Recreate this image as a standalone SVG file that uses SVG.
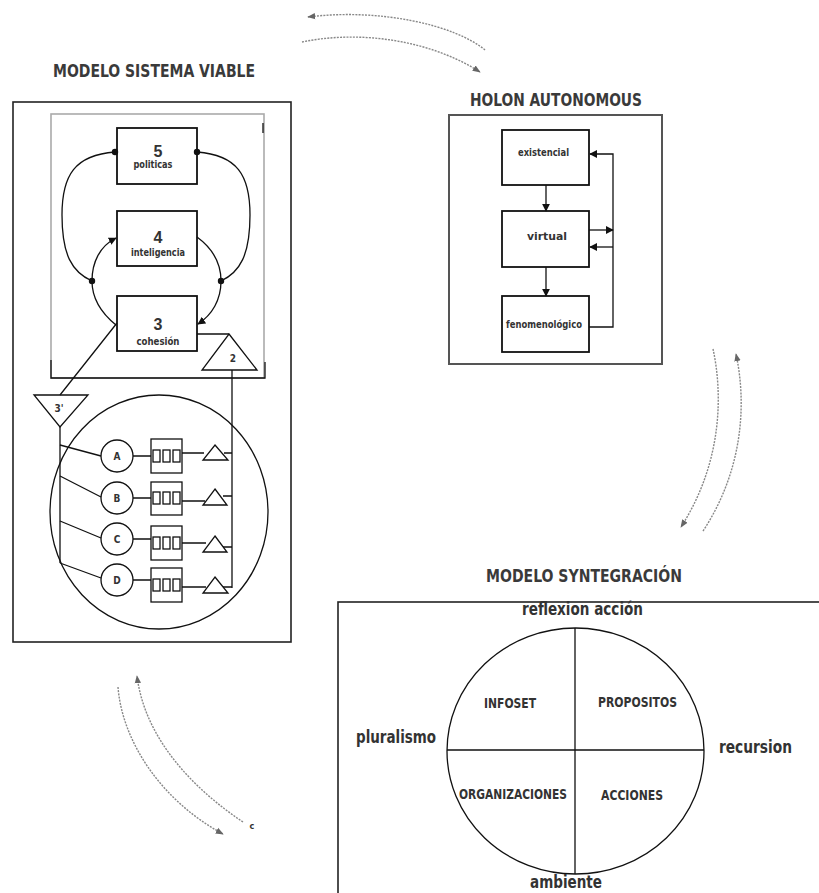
<svg xmlns="http://www.w3.org/2000/svg" width="819" height="893" viewBox="0 0 819 893">
  <style>
    .t { font-family: 'Liberation Sans Narrow', 'DejaVu Sans Condensed', 'Liberation Sans', sans-serif; font-weight: bold; fill: #333; }
    .title { font-size: 18px; fill: #3a3a3a; }
    .lab { font-size: 17px; }
    .quad { font-size: 14px; }
    .small { font-size: 10px; }
    .num { font-size: 16px; font-family: 'Liberation Sans', sans-serif; }
    .ln { fill: none; stroke: #111; stroke-width: 1.3; }
    .box { fill: #fff; stroke: #111; stroke-width: 1.8; }
    .frame { fill: none; stroke: #222; stroke-width: 1.6; }
    .dash { fill: none; stroke: #888; stroke-width: 1.4; stroke-dasharray: 2 1.2; }
    .dot { fill: #111; }
  </style>
  <defs>
    <marker id="ah" viewBox="0 0 10 10" refX="9" refY="5" markerWidth="8" markerHeight="8" markerUnits="userSpaceOnUse" orient="auto">
      <path d="M0,0 L10,5 L0,10 z" fill="#111"/>
    </marker>
    <marker id="ahg" viewBox="0 0 10 10" refX="9" refY="5" markerWidth="8" markerHeight="8" markerUnits="userSpaceOnUse" orient="auto">
      <path d="M0,1 L10,5 L0,9 z" fill="#666"/>
    </marker>
  </defs>
  <rect width="819" height="893" fill="#fff"/>

  <!-- section titles -->
  <text class="t title" x="53" y="77" textLength="202" lengthAdjust="spacingAndGlyphs">MODELO SISTEMA VIABLE</text>
  <text class="t title" x="470" y="106" textLength="172" lengthAdjust="spacingAndGlyphs">HOLON AUTONOMOUS</text>
  <text class="t title" x="486" y="582" textLength="196" lengthAdjust="spacingAndGlyphs">MODELO SYNTEGRACIÓN</text>

  <!-- viable system model -->
  <g id="vsm">
    <rect class="frame" x="13" y="102" width="278" height="540"/>
    <rect x="51" y="114" width="213" height="264" fill="none" stroke="#aaa" stroke-width="1.6"/>
    <path class="ln" d="M51,360 L51,378 L265,378 L265,362 M263,123 L263,133"/>

    <g id="s5">
      <rect class="box" x="117" y="128" width="80" height="56"/>
      <text class="t num" x="158" y="157" text-anchor="middle">5</text>
      <text class="t small" x="153" y="168" text-anchor="middle" textLength="39" lengthAdjust="spacingAndGlyphs">politicas</text>
    </g>
    <g id="s4">
      <rect class="box" x="117" y="211" width="80" height="55"/>
      <text class="t num" x="158" y="243" text-anchor="middle">4</text>
      <text class="t small" x="158" y="256" text-anchor="middle" textLength="54" lengthAdjust="spacingAndGlyphs">inteligencia</text>
    </g>
    <g id="s3">
      <rect class="box" x="117" y="296" width="80" height="55"/>
      <text class="t num" x="158" y="330" text-anchor="middle">3</text>
      <text class="t small" x="158" y="345" text-anchor="middle" textLength="43" lengthAdjust="spacingAndGlyphs">cohesión</text>
    </g>
    <g id="s2">
      <path class="ln" d="M229,334 L257,370 L202,370 z" fill="#fff"/>
      <text class="t small" x="233" y="362" text-anchor="middle" font-size="11">2</text>
    </g>
    <g id="s3p">
      <path class="ln" d="M34,395 L88,395 L60,427 z" fill="#fff"/>
      <text class="t small" x="59" y="412" text-anchor="middle" fill="#555">3'</text>
    </g>

    <!-- operational units -->
    <ellipse cx="159" cy="512" rx="109" ry="117" class="ln"/>
    <g id="uA">
      <circle cx="117" cy="456" r="16" class="ln" fill="#fff"/>
      <text class="t small" x="117" y="460" text-anchor="middle" font-size="9">A</text>
      <rect x="151" y="439" width="31" height="34" class="ln"/>
      <g class="ln" stroke-width="1.8"><rect x="153" y="450" width="7" height="12"/><rect x="163" y="450" width="7" height="12"/><rect x="173" y="450" width="7" height="12"/></g>
      <path class="ln" d="M215,445 L228,460 L203,460 z"/>
    </g>
    <g id="uB">
      <circle cx="117" cy="498" r="16" class="ln" fill="#fff"/>
      <text class="t small" x="117" y="502" text-anchor="middle" font-size="9">B</text>
      <rect x="151" y="482" width="31" height="33" class="ln"/>
      <g class="ln" stroke-width="1.8"><rect x="153" y="492" width="7" height="12"/><rect x="163" y="492" width="7" height="12"/><rect x="173" y="492" width="7" height="12"/></g>
      <path class="ln" d="M215,489 L227,505 L203,505 z"/>
    </g>
    <g id="uC">
      <circle cx="117" cy="539" r="16" class="ln" fill="#fff"/>
      <text class="t small" x="117" y="543" text-anchor="middle" font-size="9">C</text>
      <rect x="151" y="526" width="31" height="34" class="ln"/>
      <g class="ln" stroke-width="1.8"><rect x="153" y="537" width="7" height="12"/><rect x="163" y="537" width="7" height="12"/><rect x="173" y="537" width="7" height="12"/></g>
      <path class="ln" d="M215,536 L227,552 L203,552 z"/>
    </g>
    <g id="uD">
      <circle cx="117" cy="580" r="16" class="ln" fill="#fff"/>
      <text class="t small" x="117" y="584" text-anchor="middle" font-size="9">D</text>
      <rect x="151" y="568" width="31" height="34" class="ln"/>
      <g class="ln" stroke-width="1.8"><rect x="153" y="579" width="7" height="12"/><rect x="163" y="579" width="7" height="12"/><rect x="173" y="579" width="7" height="12"/></g>
      <path class="ln" d="M215,577 L228,593 L203,593 z"/>
    </g>
  </g>

  <!-- holon -->
  <g id="holon">
    <rect x="449" y="115" width="213" height="249" fill="none" stroke="#555" stroke-width="2"/>
    <g id="h-exist">
      <rect class="box" x="502" y="130" width="87" height="55" stroke-width="2.2"/>
      <text class="t small" x="543.5" y="156" text-anchor="middle" textLength="51" lengthAdjust="spacingAndGlyphs">existencial</text>
    </g>
    <g id="h-virtual">
      <rect class="box" x="502" y="211" width="87" height="56" stroke-width="2.2"/>
      <text class="t small" x="547" y="240" text-anchor="middle" textLength="40" lengthAdjust="spacingAndGlyphs">virtual</text>
    </g>
    <g id="h-fenom">
      <rect class="box" x="502" y="296" width="87" height="56" stroke-width="2.2"/>
      <text class="t small" x="544" y="328" text-anchor="middle" textLength="76" lengthAdjust="spacingAndGlyphs">fenomenológico</text>
    </g>
  </g>

  <!-- syntegration -->
  <g id="syntegration">
    <rect x="338" y="602" width="500" height="300" fill="none" stroke="#222" stroke-width="1.6"/>
    <ellipse cx="575.5" cy="751" rx="128.5" ry="123" class="ln" stroke-width="1.5"/>
    <path class="ln" stroke-width="1.5" d="M447,750 L704,750 M575,628 L575,874"/>
    <text class="t lab" x="522" y="615" textLength="121" lengthAdjust="spacingAndGlyphs">reflexion acción</text>
    <text class="t lab" x="356" y="743" textLength="80" lengthAdjust="spacingAndGlyphs">pluralismo</text>
    <text class="t lab" x="719" y="753" textLength="73" lengthAdjust="spacingAndGlyphs">recursion</text>
    <text class="t lab" x="530" y="888" textLength="72" lengthAdjust="spacingAndGlyphs">ambiente</text>
    <g id="q-infoset"><text class="t quad" x="484" y="708" textLength="52" lengthAdjust="spacingAndGlyphs">INFOSET</text></g>
    <g id="q-propositos"><text class="t quad" x="598" y="707" textLength="79" lengthAdjust="spacingAndGlyphs">PROPOSITOS</text></g>
    <g id="q-organizaciones"><text class="t quad" x="459" y="799" textLength="108" lengthAdjust="spacingAndGlyphs">ORGANIZACIONES</text></g>
    <g id="q-acciones"><text class="t quad" x="601" y="800" textLength="62" lengthAdjust="spacingAndGlyphs">ACCIONES</text></g>
  </g>

  <!-- connectors -->
  <g id="connectors">
    <!-- VSM loops -->
    <path class="ln" d="M115,152 C75,155 62,175 62,215 C62,255 72,272 92,281"/>
    <path class="ln" d="M197,152 C237,155 250,175 250,215 C250,255 240,272 221,281"/>
    <path class="ln" marker-end="url(#ah)" d="M116,325 C100,312 92,298 92,281 C92,262 100,246 116,238"/>
    <path class="ln" marker-end="url(#ah)" d="M197,237 C212,248 221,262 221,281 C221,300 212,315 198,324"/>
    <circle class="dot" cx="115" cy="152" r="3.2"/>
    <circle class="dot" cx="197" cy="152" r="3.2"/>
    <circle class="dot" cx="92" cy="281" r="3.2"/>
    <circle class="dot" cx="221" cy="281" r="3.2"/>
    <path class="ln" d="M197,334 L229,334 M232,370 L232,588"/>
    <path class="ln" d="M117,323 L60,395 M60,427 L60,563"/>
    <path class="ln" d="M60,445 L101,456 M60,476 L101,497 M60,521 L101,538 M60,563 L101,578"/>
    <path class="ln" d="M133,456 L151,456 M133,498 L151,498 M133,539 L151,539 M133,580 L151,580"/>
    <path class="ln" d="M182,453 L204,453 M182,501 L205,501 M182,543 L206,543 M182,587 L206,587"/>
    <path class="ln" d="M224,453 L232,453 M223,496 L232,496 M223,547 L232,547 M223,587 L232,587"/>

    <!-- holon flows -->
    <path class="ln" stroke-width="1.6" marker-end="url(#ah)" d="M546,185 L546,211"/>
    <path class="ln" stroke-width="1.6" marker-end="url(#ah)" d="M546,267 L546,296"/>
    <path class="ln" stroke-width="1.6" marker-end="url(#ah)" d="M589,327 L613,327 L613,154 L590,154"/>
    <path class="ln" stroke-width="1.6" marker-end="url(#ah)" d="M589,230 L613,230"/>
    <path class="ln" stroke-width="1.6" marker-end="url(#ah)" d="M613,247 L590,247"/>

    <!-- exchanges between models -->
    <path class="dash" marker-end="url(#ahg)" d="M485,50 C455,25 380,8 308,17"/>
    <path class="dash" marker-end="url(#ahg)" d="M302,42 C360,30 430,40 480,72"/>
    <path class="dash" marker-end="url(#ahg)" d="M713,349 C722,390 724,460 681,527"/>
    <path class="dash" marker-end="url(#ahg)" d="M703,531 C740,475 748,410 736,354"/>
    <path class="dash" marker-end="url(#ahg)" d="M118,687 C122,740 160,800 223,834"/>
    <path class="dash" marker-end="url(#ahg)" d="M243,822 C195,790 145,740 137,676"/>
    <text class="t" x="252" y="829" font-size="9" fill="#555" text-anchor="middle">c</text>
  </g>
</svg>
